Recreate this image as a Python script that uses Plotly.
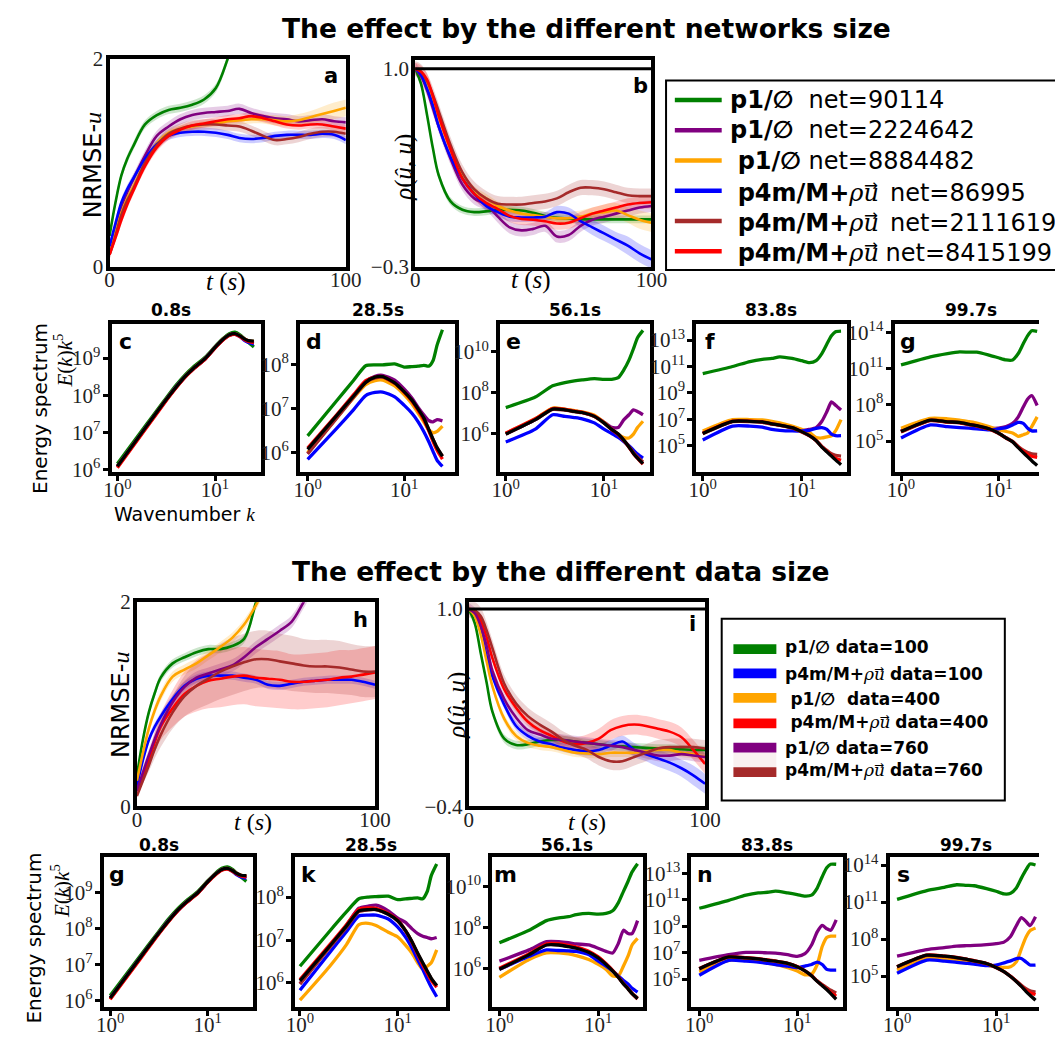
import plotly.graph_objects as go

W, H = 1055, 1045
SANS = "DejaVu Sans"
SERIF = "Liberation Serif"

# ---------------- data ----------------
T = [0, 2.5, 5, 7.5, 10, 15, 20, 25, 30, 35, 40, 45, 50, 55, 60, 65, 70, 75, 80, 85, 90, 95, 100]
K = [1, 2, 3, 4, 5, 6, 8, 10, 12, 14, 16, 18, 20, 22, 25]

COLORS = {"green": "#008000", "purple": "#800080", "orange": "#FFA500",
          "blue": "#0000FF", "brown": "#A52A2A", "red": "#FF0000", "black": "#000000"}

# (a) NRMSE, network size
NRMSE_NET = dict(
    green=[0.30, 0.62, 0.88, 1.04, 1.16, 1.37, 1.46, 1.51, 1.53, 1.56, 1.61, 1.72, 2.00, 2.35, 2.70, 3.00, 3.30, 3.60, 3.90, 4.20, 4.50, 4.80, 5.10],
    purple=[0.17, 0.38, 0.58, 0.72, 0.84, 1.07, 1.26, 1.35, 1.42, 1.46, 1.48, 1.49, 1.50, 1.52, 1.48, 1.45, 1.43, 1.42, 1.40, 1.41, 1.42, 1.40, 1.39],
    orange=[0.13, 0.33, 0.52, 0.66, 0.77, 1.00, 1.19, 1.29, 1.33, 1.35, 1.37, 1.38, 1.40, 1.41, 1.42, 1.42, 1.41, 1.40, 1.41, 1.44, 1.47, 1.50, 1.53],
    blue=[0.20, 0.42, 0.62, 0.75, 0.85, 1.04, 1.18, 1.26, 1.29, 1.30, 1.30, 1.29, 1.27, 1.24, 1.23, 1.24, 1.26, 1.27, 1.27, 1.27, 1.28, 1.27, 1.22],
    brown=[0.12, 0.30, 0.50, 0.64, 0.75, 1.00, 1.17, 1.28, 1.33, 1.36, 1.37, 1.37, 1.36, 1.35, 1.31, 1.26, 1.22, 1.23, 1.25, 1.28, 1.30, 1.30, 1.28],
    red=[0.12, 0.28, 0.45, 0.60, 0.73, 0.97, 1.15, 1.26, 1.32, 1.36, 1.38, 1.40, 1.42, 1.43, 1.45, 1.43, 1.40, 1.37, 1.36, 1.37, 1.37, 1.35, 1.33],
)
NRMSE_NET_SPREAD = dict(
    green=0.04, purple=0.05, blue=0.04, brown=0.05, red=0.04,
    orange=[0.0, 0.02, 0.03, 0.03, 0.03, 0.03, 0.03, 0.03, 0.03, 0.03, 0.03, 0.03, 0.03, 0.04, 0.04, 0.04, 0.05, 0.05, 0.06, 0.06, 0.07, 0.08, 0.08],
)

# (b) correlation, network size
CORR_NET = dict(
    green=[1.0, 0.90, 0.70, 0.48, 0.30, 0.13, 0.075, 0.06, 0.065, 0.075, 0.075, 0.07, 0.055, 0.035, 0.022, 0.018, 0.013, 0.012, 0.012, 0.012, 0.012, 0.012, 0.012],
    purple=[1.0, 0.95, 0.86, 0.74, 0.62, 0.41, 0.24, 0.15, 0.11, 0.03, -0.04, -0.06, -0.05, -0.03, -0.10, -0.09, -0.03, 0.01, 0.03, 0.05, 0.07, 0.09, 0.10],
    orange=[1.0, 0.97, 0.91, 0.80, 0.68, 0.47, 0.30, 0.20, 0.15, 0.10, 0.07, 0.05, 0.04, 0.03, 0.02, 0.02, 0.03, 0.05, 0.06, 0.07, 0.04, 0.01, -0.01],
    blue=[1.0, 0.96, 0.87, 0.76, 0.62, 0.42, 0.28, 0.18, 0.10, 0.06, 0.03, 0.025, 0.025, 0.03, 0.06, 0.05, 0.0, -0.04, -0.08, -0.12, -0.16, -0.21, -0.25],
    brown=[1.0, 0.98, 0.92, 0.83, 0.72, 0.50, 0.32, 0.21, 0.15, 0.115, 0.11, 0.11, 0.12, 0.13, 0.15, 0.19, 0.22, 0.22, 0.21, 0.19, 0.17, 0.165, 0.165],
    red=[1.0, 0.98, 0.93, 0.82, 0.69, 0.47, 0.28, 0.18, 0.12, 0.08, 0.035, 0.015, 0.01, 0.0, -0.015, -0.01, 0.02, 0.05, 0.07, 0.09, 0.11, 0.12, 0.125],
)
CORR_NET_SPREAD = dict(
    green=0.025, purple=0.04, brown=0.05, red=0.04,
    orange=[0.0, 0.01, 0.02, 0.03, 0.03, 0.03, 0.03, 0.03, 0.03, 0.03, 0.03, 0.03, 0.03, 0.03, 0.03, 0.04, 0.04, 0.04, 0.05, 0.05, 0.05, 0.06, 0.06],
    blue=[0.0, 0.01, 0.02, 0.03, 0.03, 0.03, 0.03, 0.03, 0.03, 0.03, 0.03, 0.03, 0.03, 0.03, 0.04, 0.04, 0.04, 0.05, 0.05, 0.05, 0.06, 0.06, 0.06],
)

# (h) NRMSE, data size
NRMSE_DATA = dict(
    green=[0.30, 0.65, 0.92, 1.11, 1.26, 1.40, 1.46, 1.51, 1.54, 1.54, 1.57, 1.64, 2.00, 2.40, 2.80, 3.20, 3.60, 4.00, 4.40, 4.80, 5.20, 5.60, 6.00],
    blue=[0.20, 0.45, 0.65, 0.78, 0.88, 1.05, 1.18, 1.25, 1.28, 1.28, 1.28, 1.26, 1.24, 1.19, 1.18, 1.20, 1.22, 1.23, 1.24, 1.24, 1.24, 1.22, 1.19],
    orange=[0.25, 0.52, 0.76, 0.94, 1.08, 1.27, 1.34, 1.40, 1.48, 1.56, 1.65, 1.78, 1.97, 2.20, 2.45, 2.70, 2.95, 3.20, 3.45, 3.70, 3.95, 4.20, 4.45],
    red=[0.15, 0.30, 0.45, 0.63, 0.78, 0.96, 1.10, 1.18, 1.23, 1.25, 1.27, 1.28, 1.26, 1.25, 1.24, 1.22, 1.22, 1.23, 1.24, 1.26, 1.27, 1.29, 1.31],
    purple=[0.15, 0.33, 0.50, 0.66, 0.80, 1.02, 1.17, 1.26, 1.30, 1.34, 1.38, 1.46, 1.56, 1.64, 1.72, 1.81, 2.00, 2.20, 2.40, 2.60, 2.80, 3.00, 3.20],
    brown=[0.10, 0.25, 0.40, 0.56, 0.70, 0.92, 1.08, 1.18, 1.25, 1.32, 1.37, 1.41, 1.44, 1.44, 1.42, 1.40, 1.38, 1.37, 1.37, 1.36, 1.34, 1.32, 1.32],
)
NRMSE_DATA_SPREAD = dict(
    green=0.04, blue=0.04, orange=0.05, purple=0.06,
    red=[0.0, 0.03, 0.06, 0.10, 0.13, 0.18, 0.22, 0.25, 0.27, 0.28, 0.28, 0.28, 0.28, 0.28, 0.28, 0.27, 0.27, 0.27, 0.27, 0.27, 0.26, 0.26, 0.26],
    brown=[0.0, 0.03, 0.06, 0.09, 0.12, 0.16, 0.20, 0.23, 0.25, 0.27, 0.28, 0.28, 0.28, 0.28, 0.27, 0.27, 0.26, 0.26, 0.26, 0.26, 0.25, 0.25, 0.25],
)

# (i) correlation, data size
CORR_DATA = dict(
    green=[1.0, 0.90, 0.69, 0.48, 0.27, 0.08, 0.035, 0.04, 0.06, 0.07, 0.07, 0.06, 0.05, 0.04, 0.03, 0.025, 0.02, 0.015, 0.01, 0.01, 0.005, 0.0, 0.0],
    blue=[1.0, 0.96, 0.85, 0.67, 0.52, 0.32, 0.17, 0.10, 0.06, 0.04, 0.015, 0.0, -0.01, 0.0, 0.03, 0.06, 0.0, -0.03, -0.06, -0.09, -0.13, -0.18, -0.24],
    orange=[1.0, 0.95, 0.82, 0.63, 0.45, 0.22, 0.10, 0.05, 0.03, 0.02, 0.0, -0.02, -0.025, -0.03, -0.02, -0.02, -0.02, -0.01, 0.0, 0.0, -0.02, -0.03, -0.05],
    red=[1.0, 0.99, 0.92, 0.80, 0.65, 0.43, 0.30, 0.20, 0.14, 0.10, 0.06, 0.04, 0.05, 0.08, 0.14, 0.17, 0.18, 0.17, 0.15, 0.13, 0.09, 0.0, -0.10],
    purple=[1.0, 0.97, 0.88, 0.74, 0.56, 0.36, 0.23, 0.14, 0.11, 0.08, 0.07, 0.06, 0.05, 0.04, 0.03, 0.02, 0.0, -0.02, -0.04, -0.04, -0.03, -0.04, -0.05],
    brown=[1.0, 0.99, 0.95, 0.85, 0.72, 0.47, 0.33, 0.24, 0.18, 0.13, 0.07, 0.03, 0.0, -0.05, -0.08, -0.08, -0.05, -0.02, 0.01, 0.02, 0.02, 0.02, 0.01],
)
CORR_DATA_SPREAD = dict(
    green=0.03, orange=0.03, purple=0.04, brown=0.06,
    blue=[0.0, 0.01, 0.02, 0.03, 0.03, 0.03, 0.03, 0.03, 0.03, 0.03, 0.03, 0.03, 0.03, 0.04, 0.04, 0.04, 0.05, 0.05, 0.06, 0.06, 0.06, 0.07, 0.07],
    red=[0.0, 0.01, 0.02, 0.03, 0.03, 0.03, 0.03, 0.03, 0.03, 0.04, 0.04, 0.05, 0.06, 0.07, 0.07, 0.07, 0.07, 0.07, 0.07, 0.07, 0.07, 0.07, 0.07],
)

# Energy spectra, log10(E(k) k^5)
SPEC_C = dict(
    green=[6.15, 7.22, 7.84, 8.27, 8.56, 8.76, 9.03, 9.31, 9.52, 9.66, 9.70, 9.63, 9.52, 9.42, 9.30],
    purple=[6.08, 7.17, 7.80, 8.23, 8.52, 8.72, 9.00, 9.29, 9.50, 9.63, 9.66, 9.60, 9.52, 9.47, 9.44],
    orange=[6.08, 7.17, 7.80, 8.22, 8.52, 8.72, 9.00, 9.29, 9.50, 9.63, 9.66, 9.60, 9.52, 9.47, 9.45],
    blue=[6.07, 7.16, 7.79, 8.22, 8.51, 8.71, 8.99, 9.28, 9.49, 9.62, 9.65, 9.58, 9.48, 9.42, 9.38],
    brown=[6.06, 7.15, 7.79, 8.21, 8.51, 8.71, 8.99, 9.28, 9.49, 9.62, 9.65, 9.59, 9.51, 9.46, 9.44],
    red=[6.04, 7.13, 7.77, 8.20, 8.50, 8.70, 8.98, 9.27, 9.48, 9.61, 9.64, 9.58, 9.50, 9.45, 9.42],
    black=[6.08, 7.17, 7.80, 8.22, 8.52, 8.72, 9.00, 9.29, 9.50, 9.63, 9.66, 9.60, 9.52, 9.47, 9.46],
)
SPEC_D = dict(
    green=[6.38, 7.18, 7.65, 7.98, 8.00, 8.00, 8.02, 7.95, 7.96, 7.97, 7.99, 7.97, 8.10, 8.45, 8.80],
    purple=[5.97, 6.80, 7.28, 7.62, 7.74, 7.76, 7.65, 7.45, 7.25, 7.03, 6.86, 6.73, 6.70, 6.75, 6.72],
    orange=[6.00, 6.80, 7.25, 7.55, 7.64, 7.65, 7.52, 7.32, 7.12, 6.90, 6.70, 6.52, 6.45, 6.48, 6.60],
    blue=[5.84, 6.55, 6.98, 7.30, 7.37, 7.38, 7.27, 7.08, 6.90, 6.70, 6.48, 6.25, 6.02, 5.82, 5.68],
    brown=[5.97, 6.78, 7.26, 7.60, 7.70, 7.72, 7.58, 7.39, 7.19, 6.98, 6.78, 6.52, 6.30, 6.10, 5.92],
    red=[6.10, 6.86, 7.32, 7.64, 7.72, 7.73, 7.58, 7.38, 7.18, 6.96, 6.75, 6.50, 6.25, 6.05, 5.85],
    black=[6.07, 6.84, 7.29, 7.60, 7.72, 7.73, 7.59, 7.39, 7.20, 6.99, 6.79, 6.53, 6.30, 6.11, 5.91],
)
SPEC_E = dict(
    green=[7.27, 7.79, 8.34, 8.50, 8.58, 8.63, 8.69, 8.66, 8.66, 8.74, 9.13, 9.60, 10.16, 10.70, 11.06],
    purple=[5.97, 6.68, 7.22, 7.18, 7.10, 7.05, 6.86, 6.56, 6.30, 6.29, 6.68, 6.92, 7.16, 7.08, 6.92],
    orange=[6.00, 6.72, 7.25, 7.20, 7.12, 7.06, 6.90, 6.55, 6.20, 5.95, 5.80, 5.78, 5.97, 6.29, 6.60],
    blue=[5.58, 6.21, 6.92, 6.84, 6.78, 6.72, 6.52, 6.21, 6.00, 5.81, 5.60, 5.40, 5.18, 4.99, 4.79],
    brown=[5.97, 6.68, 7.18, 7.15, 7.07, 7.02, 6.83, 6.52, 6.20, 5.96, 5.66, 5.36, 5.06, 4.85, 4.60],
    red=[6.02, 6.72, 7.22, 7.18, 7.10, 7.04, 6.85, 6.53, 6.20, 5.95, 5.64, 5.32, 5.01, 4.78, 4.50],
    black=[5.97, 6.68, 7.20, 7.16, 7.08, 7.03, 6.84, 6.52, 6.20, 5.97, 5.66, 5.34, 5.02, 4.79, 4.52],
)
SPEC_F = dict(
    green=[10.46, 11.00, 11.37, 11.54, 11.61, 11.73, 11.61, 11.44, 11.29, 11.44, 11.98, 12.70, 13.32, 13.63, 13.68],
    purple=[5.95, 6.86, 6.87, 6.82, 6.70, 6.60, 6.42, 6.15, 6.24, 6.37, 6.85, 7.59, 8.32, 8.07, 7.71],
    orange=[6.12, 6.98, 6.98, 6.95, 6.85, 6.73, 6.49, 6.24, 6.00, 5.63, 5.59, 5.68, 5.76, 6.12, 6.98],
    blue=[5.44, 6.49, 6.49, 6.41, 6.24, 6.17, 6.12, 6.12, 6.17, 6.32, 6.37, 6.24, 5.88, 5.76, 5.76],
    brown=[5.90, 6.82, 6.83, 6.78, 6.64, 6.54, 6.35, 6.05, 5.75, 5.40, 4.95, 4.65, 4.40, 4.28, 4.22],
    red=[5.95, 6.86, 6.86, 6.81, 6.67, 6.57, 6.37, 6.07, 5.76, 5.40, 4.92, 4.58, 4.28, 4.05, 3.90],
    black=[5.93, 6.85, 6.85, 6.80, 6.66, 6.56, 6.37, 6.07, 5.76, 5.39, 4.90, 4.54, 4.22, 3.93, 3.56],
)
SPEC_G = dict(
    green=[11.31, 11.98, 12.25, 12.39, 12.36, 12.36, 12.12, 11.90, 11.72, 11.72, 12.25, 13.06, 13.73, 14.13, 14.08],
    purple=[5.85, 6.78, 6.64, 6.58, 6.42, 6.30, 6.05, 6.07, 6.20, 6.47, 7.01, 7.82, 8.49, 8.76, 7.95],
    orange=[6.07, 6.88, 6.85, 6.74, 6.61, 6.50, 6.20, 5.94, 5.80, 5.67, 5.40, 5.53, 5.67, 6.20, 7.01],
    blue=[5.26, 6.34, 6.20, 6.12, 6.07, 6.02, 5.94, 6.02, 6.12, 6.34, 6.55, 6.47, 6.07, 5.85, 5.85],
    brown=[5.75, 6.70, 6.57, 6.52, 6.36, 6.25, 6.00, 5.65, 5.28, 4.98, 4.55, 4.25, 4.05, 3.95, 3.90],
    red=[5.78, 6.72, 6.59, 6.54, 6.38, 6.27, 6.01, 5.66, 5.26, 4.95, 4.50, 4.15, 3.90, 3.75, 3.65],
    black=[5.80, 6.74, 6.60, 6.55, 6.39, 6.28, 6.02, 5.67, 5.26, 4.94, 4.46, 4.05, 3.70, 3.38, 2.98],
)
SPEC_G2 = dict(
    green=[6.15, 7.22, 7.84, 8.27, 8.56, 8.76, 9.03, 9.31, 9.52, 9.66, 9.70, 9.63, 9.52, 9.42, 9.30],
    purple=[6.08, 7.17, 7.80, 8.23, 8.52, 8.72, 9.00, 9.29, 9.50, 9.63, 9.66, 9.60, 9.52, 9.47, 9.44],
    orange=[6.08, 7.17, 7.80, 8.22, 8.52, 8.72, 9.00, 9.29, 9.50, 9.63, 9.66, 9.60, 9.52, 9.47, 9.45],
    blue=[6.07, 7.16, 7.79, 8.22, 8.51, 8.71, 8.99, 9.28, 9.49, 9.62, 9.65, 9.58, 9.48, 9.42, 9.38],
    brown=[6.06, 7.15, 7.79, 8.21, 8.51, 8.71, 8.99, 9.28, 9.49, 9.62, 9.65, 9.59, 9.51, 9.46, 9.44],
    red=[6.04, 7.13, 7.77, 8.20, 8.50, 8.70, 8.98, 9.27, 9.48, 9.61, 9.64, 9.58, 9.50, 9.45, 9.42],
    black=[6.08, 7.17, 7.80, 8.22, 8.52, 8.72, 9.00, 9.29, 9.50, 9.63, 9.66, 9.60, 9.52, 9.47, 9.46],
)
SPEC_K = dict(
    green=[6.39, 7.20, 7.66, 7.96, 8.00, 8.01, 8.02, 7.94, 7.96, 7.97, 7.98, 7.96, 8.13, 8.50, 8.77],
    purple=[5.98, 6.83, 7.35, 7.74, 7.79, 7.81, 7.68, 7.51, 7.41, 7.26, 7.15, 7.09, 7.06, 7.03, 7.06],
    orange=[5.60, 6.38, 6.90, 7.36, 7.39, 7.34, 7.18, 7.07, 6.88, 6.69, 6.47, 6.32, 6.39, 6.47, 6.77],
    blue=[5.83, 6.70, 7.20, 7.56, 7.58, 7.58, 7.49, 7.30, 7.07, 6.81, 6.54, 6.32, 6.09, 5.90, 5.68],
    brown=[5.98, 6.82, 7.30, 7.66, 7.70, 7.71, 7.60, 7.44, 7.21, 6.95, 6.68, 6.46, 6.27, 6.10, 5.93],
    red=[6.08, 6.88, 7.36, 7.72, 7.75, 7.74, 7.62, 7.46, 7.22, 6.95, 6.66, 6.42, 6.23, 6.06, 5.90],
    black=[6.05, 6.85, 7.33, 7.68, 7.71, 7.71, 7.60, 7.45, 7.22, 6.96, 6.69, 6.47, 6.28, 6.11, 5.94],
)
SPEC_M = dict(
    green=[7.25, 7.86, 8.33, 8.46, 8.52, 8.62, 8.68, 8.65, 8.68, 8.81, 9.21, 9.76, 10.24, 10.71, 11.11],
    purple=[6.35, 6.90, 7.30, 7.30, 7.25, 7.19, 7.14, 6.98, 6.83, 6.75, 7.22, 7.86, 7.70, 7.70, 8.33],
    orange=[5.56, 6.43, 6.75, 6.75, 6.70, 6.62, 6.43, 6.19, 5.95, 5.63, 5.63, 6.11, 6.59, 7.14, 7.46],
    blue=[5.95, 6.59, 6.90, 6.87, 6.85, 6.83, 6.67, 6.35, 6.11, 5.87, 5.63, 5.40, 5.24, 5.03, 4.84],
    brown=[5.95, 6.68, 7.16, 7.15, 7.08, 7.00, 6.80, 6.53, 6.21, 5.88, 5.57, 5.26, 5.03, 4.79, 4.55],
    red=[6.00, 6.72, 7.20, 7.20, 7.12, 7.04, 6.84, 6.56, 6.23, 5.90, 5.57, 5.25, 5.00, 4.76, 4.50],
    black=[5.95, 6.67, 7.14, 7.14, 7.06, 6.98, 6.78, 6.51, 6.19, 5.87, 5.56, 5.24, 5.00, 4.76, 4.52],
)
SPEC_N = dict(
    green=[10.36, 10.96, 11.35, 11.52, 11.57, 11.65, 11.52, 11.40, 11.28, 11.35, 11.89, 12.75, 13.42, 13.69, 13.69],
    purple=[6.42, 6.84, 7.01, 7.01, 6.98, 6.96, 6.84, 6.72, 6.92, 7.58, 8.57, 9.06, 8.81, 8.69, 9.48],
    orange=[5.54, 6.42, 6.42, 6.33, 6.20, 6.10, 5.86, 5.61, 5.32, 5.36, 6.10, 7.46, 8.15, 8.25, 8.25],
    blue=[5.29, 6.42, 6.35, 6.28, 6.18, 6.10, 5.98, 5.86, 5.98, 6.10, 6.28, 6.10, 5.73, 5.68, 5.68],
    brown=[5.76, 6.65, 6.59, 6.51, 6.41, 6.34, 6.17, 5.93, 5.62, 5.26, 4.86, 4.58, 4.35, 4.15, 3.95],
    red=[5.80, 6.68, 6.62, 6.54, 6.44, 6.36, 6.19, 5.94, 5.62, 5.25, 4.84, 4.52, 4.25, 3.98, 3.70],
    black=[5.78, 6.67, 6.60, 6.52, 6.42, 6.35, 6.18, 5.93, 5.61, 5.24, 4.82, 4.50, 4.21, 3.89, 3.47],
)
SPEC_S = dict(
    green=[11.21, 11.93, 12.19, 12.40, 12.35, 12.32, 12.09, 11.87, 11.66, 11.71, 12.14, 12.94, 13.60, 14.08, 14.00],
    purple=[6.61, 7.14, 7.30, 7.43, 7.46, 7.48, 7.54, 7.62, 7.75, 8.20, 9.08, 9.74, 9.43, 9.08, 9.80],
    orange=[5.49, 6.50, 6.42, 6.34, 6.22, 6.10, 5.89, 5.76, 5.70, 5.76, 6.15, 7.22, 8.15, 8.68, 8.89],
    blue=[5.22, 6.29, 6.21, 6.10, 6.03, 5.97, 5.84, 5.89, 6.07, 6.23, 6.42, 6.42, 6.15, 5.89, 5.89],
    brown=[5.74, 6.67, 6.59, 6.48, 6.35, 6.21, 6.00, 5.69, 5.36, 4.98, 4.60, 4.25, 3.98, 3.80, 3.70],
    red=[5.76, 6.70, 6.62, 6.51, 6.38, 6.24, 6.02, 5.70, 5.36, 4.97, 4.57, 4.18, 3.85, 3.65, 3.50],
    black=[5.76, 6.69, 6.61, 6.50, 6.37, 6.23, 6.02, 5.70, 5.36, 4.96, 4.56, 4.16, 3.76, 3.44, 3.04],
)

SPEC_TIMES = ["0.8s", "28.5s", "56.1s", "83.8s", "99.7s"]
LEGEND_NET = [
    ("green", "<b>p1/∅</b>\u00a0 net=90114"),
    ("purple", "<b>p1/∅</b>\u00a0 net=2224642"),
    ("orange", "\u00a0<b>p1/∅</b> net=8884482"),
    ("blue", "\u00a0<b>p4m/M+</b>RHOU\u2002net=86995"),
    ("brown", "\u00a0<b>p4m/M+</b>RHOU\u2002net=2111619"),
    ("red", "\u00a0<b>p4m/M+</b>RHOU net=8415199"),
]
LEGEND_DATA = [
    ("green", "<b>p1/∅ data=100</b>"),
    ("blue", "<b>p4m/M+</b>RHOU<b> data=100</b>"),
    ("orange", "\u00a0<b>p1/∅\u00a0 data=400</b>"),
    ("red", "\u00a0<b>p4m/M+</b>RHOU<b> data=400</b>"),
    ("purple", "<b>p1/∅ data=760</b>"),
    ("brown", "<b>p4m/M+</b>RHOU<b> data=760</b>"),
]

# ---------------- helpers ----------------
fig = go.Figure()
TS_TICKFONT = dict(family=SERIF, size=21, color="#222222")
SP_TICKFONT = dict(family=SERIF, size=21, color="#222222")
annotations = []
shapes = []
_count = [0]


def rgba(hexc, a):
    h = hexc.lstrip("#")
    return "rgba(%d,%d,%d,%s)" % (int(h[0:2], 16), int(h[2:4], 16), int(h[4:6], 16), a)


def new_axes(xpx, ypx, xr, yr, xlog, ylog, xtv, xtt, ytv, ytt, ticks, tickfont, open_right=False):
    _count[0] += 1
    i = _count[0]
    s = "" if i == 1 else str(i)
    common = dict(showline=True, linecolor="black", linewidth=4, showgrid=False, zeroline=False,
                  ticks=ticks, ticklen=5, tickwidth=2.5, tickcolor="black", tickfont=tickfont,
                  tickmode="array", fixedrange=True)
    xa = dict(common, domain=[xpx[0] / W, min(1.0, xpx[1] / W)], range=xr,
              type="log" if xlog else "linear", anchor="y" + s, mirror=True,
              tickvals=xtv, ticktext=xtt, ticklabelstandoff=-9)
    ya = dict(common, domain=[1 - ypx[1] / H, 1 - ypx[0] / H], range=yr,
              type="log" if ylog else "linear", anchor="x" + s, mirror=not open_right,
              tickvals=ytv, ticktext=ytt, ticklabelstandoff=-2)
    fig.update_layout({"xaxis" + s: xa, "yaxis" + s: ya})
    return "x" + s, "y" + s


def ann(text, x, y, size, family=SANS, angle=0, xanchor="center", yanchor="middle", color="black"):
    annotations.append(dict(text=text, x=x / W, y=1 - y / H, xref="paper", yref="paper",
                            showarrow=False, font=dict(family=family, size=size, color=color),
                            textangle=angle, xanchor=xanchor, yanchor=yanchor))


def add_ts(xa, ya, data, spreads, order):
    for name in order:
        vals = data[name]
        sp = spreads[name]
        sp = sp if isinstance(sp, list) else [sp] * len(vals)
        up = [v + d for v, d in zip(vals, sp)]
        lo = [v - d for v, d in zip(vals, sp)]
        fig.add_trace(go.Scatter(x=T, y=up, xaxis=xa, yaxis=ya, mode="lines",
                                 line=dict(width=0, shape="spline", color=rgba(COLORS[name], 0)),
                                 hoverinfo="skip", showlegend=False))
        fig.add_trace(go.Scatter(x=T, y=lo, xaxis=xa, yaxis=ya, mode="lines", fill="tonexty",
                                 fillcolor=rgba(COLORS[name], 0.2),
                                 line=dict(width=0, shape="spline", color=rgba(COLORS[name], 0)),
                                 hoverinfo="skip", showlegend=False))
    for name in order:
        fig.add_trace(go.Scatter(x=T, y=data[name], xaxis=xa, yaxis=ya, mode="lines",
                                 line=dict(color=COLORS[name], width=2.6, shape="spline"),
                                 showlegend=False))


SPEC_ORDER = ["green", "purple", "orange", "blue", "brown", "red", "black"]


def add_spec(xa, ya, data):
    for name in SPEC_ORDER:
        fig.add_trace(go.Scatter(x=K, y=[10 ** v for v in data[name]], xaxis=xa, yaxis=ya,
                                 mode="lines",
                                 line=dict(color=COLORS[name], width=3.3, shape="spline", smoothing=0.6),
                                 showlegend=False))


def pow_ticks(exps):
    return [10.0 ** e for e in exps], ["10<sup>%d</sup>" % e for e in exps]


def rho_u(size):
    back = int(round(size * 0.62))
    return ('<span style="font-family:DejaVu Serif"><i>ρ</i></span>'
            '<span style="font-family:DejaVu Serif;letter-spacing:-%dpx"><i>u</i></span>'
            '<sup>→</sup>' % back)


XTV, XTT = pow_ticks([0, 1])
ITAL_U = '<span style="font-family:%s"><i>u</i></span>' % SERIF

# ---------------- top section ----------------
ann("<b>The effect by the different networks size</b>", 592, 17, 26.5)

xa, ya = new_axes((103, 345), (48, 261), [0, 100], [0, 2], False, False,
                  [0, 100], ["0", "100"], [0, 2], ["0", "2"], "", TS_TICKFONT)
add_ts(xa, ya, NRMSE_NET, NRMSE_NET_SPREAD, ["green", "purple", "orange", "blue", "brown", "red"])
ann("<b>a</b>", 330, 65, 21)
ann("NRMSE-" + ITAL_U, 86, 157, 24, angle=-90)
ann("<i>t</i> (<i>s</i>)", 222, 276, 25, family=SERIF)

xa, ya = new_axes((416, 658), (49, 261), [0, 100], [-0.3, 1.058], False, False,
                  [0, 100], ["0", "100"], [-0.3, 1.0], ["\u22120.3", "1.0"], "", TS_TICKFONT)
add_ts(xa, ya, CORR_NET, CORR_NET_SPREAD, ["green", "purple", "orange", "blue", "brown", "red"])
shapes.append(dict(type="line", xref=xa + " domain", yref=ya, x0=0, x1=1, y0=1.0, y1=1.0,
                   line=dict(color="black", width=3)))
ann("<b>b</b>", 647, 76, 21)
ann("<i>ρ</i>(<i>û</i>, <i>u</i>)", 405, 159, 25, family=SERIF, angle=-90)
ann("<i>t</i> (<i>s</i>)", 535, 274, 25, family=SERIF)

# legend 1
shapes.append(dict(type="rect", xref="paper", yref="paper", x0=673 / W, x1=1.02,
                   y0=1 - 264 / H, y1=1 - 70 / H, line=dict(color="black", width=2)))
leg_y = [90, 121, 152, 183, 214, 245]
for (c, txt), yy in zip(LEGEND_NET, leg_y):
    shapes.append(dict(type="line", xref="paper", yref="paper", x0=682 / W, x1=730 / W,
                       y0=1 - yy / H, y1=1 - yy / H, line=dict(color=COLORS[c], width=4.5)))
    ann(txt.replace("RHOU", rho_u(24)), 736, yy, 24, xanchor="left")

# spectra row 1
row1_y = (319, 471)
rows1 = [
    ("c", SPEC_C, (105, 258), [-0.06, 1.47], [5.92, 9.93], [6, 7, 8, 9], False, 166),
    ("d", SPEC_D, (298, 457), [-0.08, 1.53], [5.55, 8.94], [6, 7, 8], False, 378),
    ("e", SPEC_E, (503, 657), [-0.058, 1.474], [4.10, 11.39], [6, 8, 10], False, 580),
    ("f", SPEC_F, (704, 858), [-0.065, 1.455], [3.0, 14.24], [5, 7, 9, 11, 13], False, 781),
    ("g", SPEC_G, (907, 1055), [-0.067, 1.417], [2.43, 14.72], [5, 8, 11, 14], True, 985),
]
for (letter, data, xpx, xr, yr, yexp, open_r, tx), ttl in zip(rows1, SPEC_TIMES):
    ytv, ytt = pow_ticks(yexp)
    xa, ya = new_axes(xpx, row1_y, xr, yr, True, True, XTV, XTT, ytv, ytt, "outside",
                      SP_TICKFONT, open_right=open_r)
    add_spec(xa, ya, data)
    ann("<b>%s</b>" % letter, xpx[0] + 14, row1_y[0] + 18, 22)
    ann("<b>%s</b>" % ttl, tx, 305, 17)

ann("Energy spectrum", 31, 406, 20, angle=-90)
ann("<i>E</i>(<i>k</i>)<i>k</i><sup>5</sup>", 56, 357, 21, family=SERIF, angle=-90)
ann("Wavenumber " + '<span style="font-family:%s"><i>k</i></span>' % SERIF, 180, 514, 19)

# ---------------- bottom section ----------------
ann("<b>The effect by the different data size</b>", 565, 573, 26.5)

xa, ya = new_axes((131, 375), (604, 813), [0, 100], [0, 2], False, False,
                  [0, 100], ["0", "100"], [0, 2], ["0", "2"], "", TS_TICKFONT)
add_ts(xa, ya, NRMSE_DATA, NRMSE_DATA_SPREAD, ["green", "blue", "orange", "red", "purple", "brown"])
ann("<b>h</b>", 360, 622, 21)
ann("NRMSE-" + ITAL_U, 114, 709, 24, angle=-90)
ann("<i>t</i> (<i>s</i>)", 250, 829, 24, family=SERIF)

xa, ya = new_axes((471, 713), (604, 813), [0, 100], [-0.4, 1.0485], False, False,
                  [0, 100], ["0", "100"], [-0.4, 1.0], ["\u22120.4", "1.0"], "", TS_TICKFONT)
add_ts(xa, ya, CORR_DATA, CORR_DATA_SPREAD, ["green", "blue", "orange", "red", "purple", "brown"])
shapes.append(dict(type="line", xref=xa + " domain", yref=ya, x0=0, x1=1, y0=1.0, y1=1.0,
                   line=dict(color="black", width=3)))
ann("<b>i</b>", 700, 626, 21)
ann("<i>ρ</i>(<i>û</i>, <i>u</i>)", 459, 710, 25, family=SERIF, angle=-90)
ann("<i>t</i> (<i>s</i>)", 592, 829, 24, family=SERIF)

# legend 2
shapes.append(dict(type="rect", xref="paper", yref="paper", x0=730 / W, x1=1020 / W,
                   y0=1 - 807 / H, y1=1 - 621 / H, line=dict(color="black", width=2)))
shapes.append(dict(type="rect", xref="paper", yref="paper", x0=742 / W, x1=786 / W,
                   y0=1 - 773 / H, y1=1 - 758 / H,
                   fillcolor=rgba(COLORS["brown"], 0.07), line=dict(width=0)))
leg2_patch_y = [652, 677, 702, 728, 753, 778]
leg2_text_y = [650, 677, 703, 726, 753, 775]
for (c, txt), py_, ty in zip(LEGEND_DATA, leg2_patch_y, leg2_text_y):
    shapes.append(dict(type="rect", xref="paper", yref="paper", x0=742 / W, x1=786 / W,
                       y0=1 - (py_ + 5) / H, y1=1 - (py_ - 5) / H,
                       fillcolor=COLORS[c], line=dict(width=0)))
    ann(txt.replace("RHOU", rho_u(17)), 793, ty, 17, xanchor="left")

# spectra row 2
row2_y = (865, 1018)
rows2 = [
    ("g", SPEC_G2, (97, 250), [-0.067, 1.467], [5.84, 9.97], [6, 7, 8, 9], False, 154),
    ("k", SPEC_K, (293, 448), [-0.05, 1.497], [5.45, 8.93], [6, 7, 8], False, 371),
    ("m", SPEC_M, (495, 649), [-0.072, 1.449], [4.13, 11.43], [6, 8, 10], False, 572),
    ("n", SPEC_N, (699, 854), [-0.08, 1.465], [2.91, 14.23], [5, 7, 9, 11, 13], False, 776),
    ("s", SPEC_S, (902, 1055), [-0.075, 1.433], [2.52, 14.64], [5, 8, 11, 14], True, 980),
]
for (letter, data, xpx, xr, yr, yexp, open_r, tx), ttl in zip(rows2, SPEC_TIMES):
    ytv, ytt = pow_ticks(yexp)
    xa, ya = new_axes(xpx, row2_y, xr, yr, True, True, XTV, XTT, ytv, ytt, "outside",
                      SP_TICKFONT, open_right=open_r)
    add_spec(xa, ya, data)
    ann("<b>%s</b>" % letter, xpx[0] + 14, row2_y[0] + 18, 22)
    ann("<b>%s</b>" % ttl, tx, 853, 17)

ann("Energy spectrum", 26, 948, 20, angle=-90)
ann("<i>E</i>(<i>k</i>)<i>k</i><sup>5</sup>", 53, 900, 21, family=SERIF, angle=-90)

fig.update_layout(width=W, height=H, autosize=False, margin=dict(l=0, r=0, t=0, b=0, pad=0),
                  paper_bgcolor="white", plot_bgcolor="white", showlegend=False,
                  annotations=annotations, shapes=shapes, font=dict(family=SANS, color="black"))

fig.write_html("out.html", config={"displayModeBar": False})
